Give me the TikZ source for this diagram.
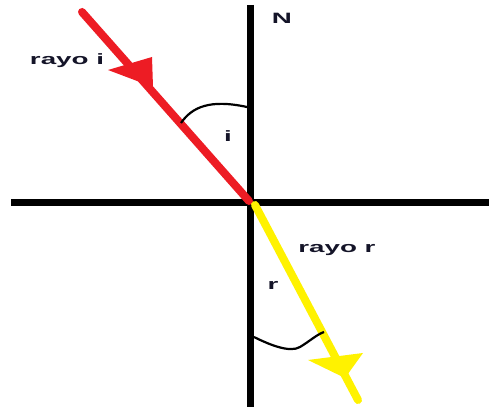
\documentclass[tikz,border=0pt]{standalone}
\usepackage{fontspec}
\setmainfont{Liberation Sans}
\begin{document}
\begin{tikzpicture}[x=1pt,y=1pt,
  axis/.style={line width=7pt,black},
  rayred/.style={line width=8pt,draw={rgb,255:red,237;green,28;blue,36}},
  rayyellow/.style={line width=8pt,draw={rgb,255:red,255;green,242;blue,0}},
  anglearc/.style={line width=2.2pt,black},
  lbl/.style={font=\fontsize{15}{18}\selectfont\bfseries,text={rgb,255:red,20;green,20;blue,40},inner sep=0pt,xscale=1.85}]
\useasboundingbox (0,0) rectangle (489,411);
% axes
\coordinate (Ntop) at (250,406);
\coordinate (Nbot) at (250,4);
\coordinate (Hl) at (11,208);
\coordinate (Hr) at (489,208);
\coordinate (O) at (250,208);
\draw[axis] (Hl) -- (Hr);
\draw[axis] (Ntop) -- (Nbot);
% incident ray
\coordinate (Istart) at (82,399);
\coordinate (Iend) at (249,210);
\draw[rayred,line cap=round] (Istart) -- (Iend);
\fill[fill={rgb,255:red,237;green,28;blue,36}] (108,341) -- (152,354) -- (153,324) -- cycle;
% reflected ray
\coordinate (Rstart) at (255,206);
\coordinate (Rend) at (358,11);
\draw[rayyellow,line cap=round] (Rstart) -- (Rend);
\fill[fill={rgb,255:red,255;green,242;blue,0}] (308,51) -- (363,58) -- (345,33) -- cycle;
% angle arcs
\coordinate (ai1) at (181,288);
\coordinate (ai2) at (247,304);
\draw[anglearc] (ai1) .. controls (192,304) and (210,312) .. (ai2);
\coordinate (ar1) at (254,74);
\coordinate (ar2) at (324,79);
\draw[anglearc] (ar1) .. controls (270,66) and (290,58) .. (300,64) .. controls (310,70) and (316,76) .. (ar2);
% labels
\node[lbl] (N) at (282,393) {N};
\node[lbl] (li) at (67,350) {rayo i};
\node[lbl] (ai) at (228,275) {i};
\node[lbl] (lr) at (337,161) {rayo r};
\node[lbl] (ar) at (273,126) {r};
\end{tikzpicture}
\end{document}
